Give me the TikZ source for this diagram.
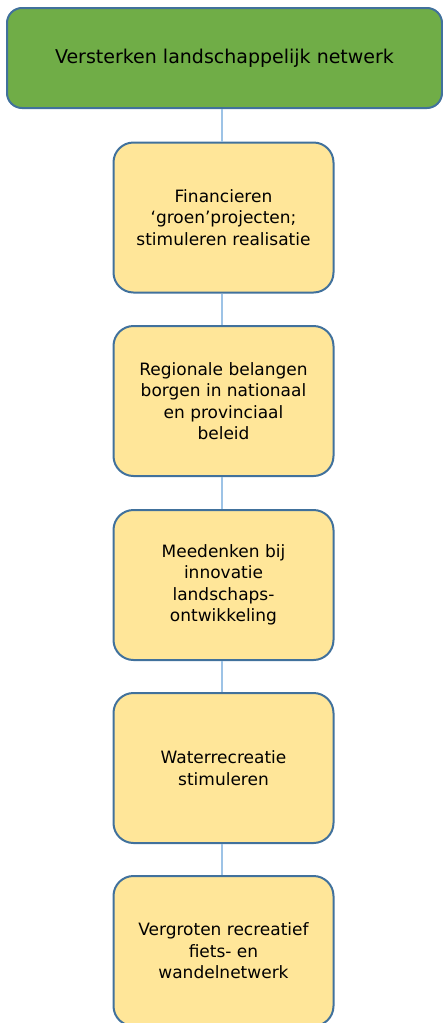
\documentclass[tikz,border=0pt]{standalone}
\usepackage{fontspec}
\setmainfont{DejaVu Sans}
\definecolor{groen}{HTML}{70AD47}
\definecolor{geel}{HTML}{FFE699}
\definecolor{rand}{HTML}{41719C}
\definecolor{lijn}{HTML}{9DC3E6}
\tikzset{
  doel/.style={draw=rand, line width=2pt, fill=groen, rounded corners=15pt,
    minimum width=435pt, minimum height=100pt, align=center,
    font=\fontsize{19}{22}\selectfont},
  actie/.style={draw=rand, line width=2pt, fill=geel, rounded corners=20pt,
    minimum width=220pt, minimum height=150pt, align=center,
    font=\fontsize{17}{21.5}\selectfont},
  verbind/.style={draw=lijn, line width=1.5pt}
}
\begin{document}
\begin{tikzpicture}[x=1pt,y=-1pt]
                \useasboundingbox (0,0) rectangle (443,1023);
                \node[doel] (top) at (224.5,58) {Versterken landschappelijk netwerk};
                \node[actie] (a1) at (223.5,217.5) {Financieren\\`groen'projecten;\\stimuleren realisatie};
                \node[actie] (a2) at (223.5,401) {Regionale belangen\\borgen in nationaal\\en provinciaal\\beleid};
                \node[actie] (a3) at (223.5,585) {Meedenken bij\\innovatie\\landschaps-\\ontwikkeling};
                \node[actie] (a4) at (223.5,768) {Waterrecreatie\\stimuleren};
                \node[actie] (a5) at (223.5,951) {Vergroten recreatief\\fiets- en\\wandelnetwerk};
                \draw[verbind] (a1.north -| 222,0) -- (top.south -| 222,0);
                \foreach \i/\j in {a1/a2,a2/a3,a3/a4,a4/a5}
                  \draw[verbind] (\i.south -| 222,0) -- (\j.north -| 222,0);
            \end{tikzpicture}
\end{document}
